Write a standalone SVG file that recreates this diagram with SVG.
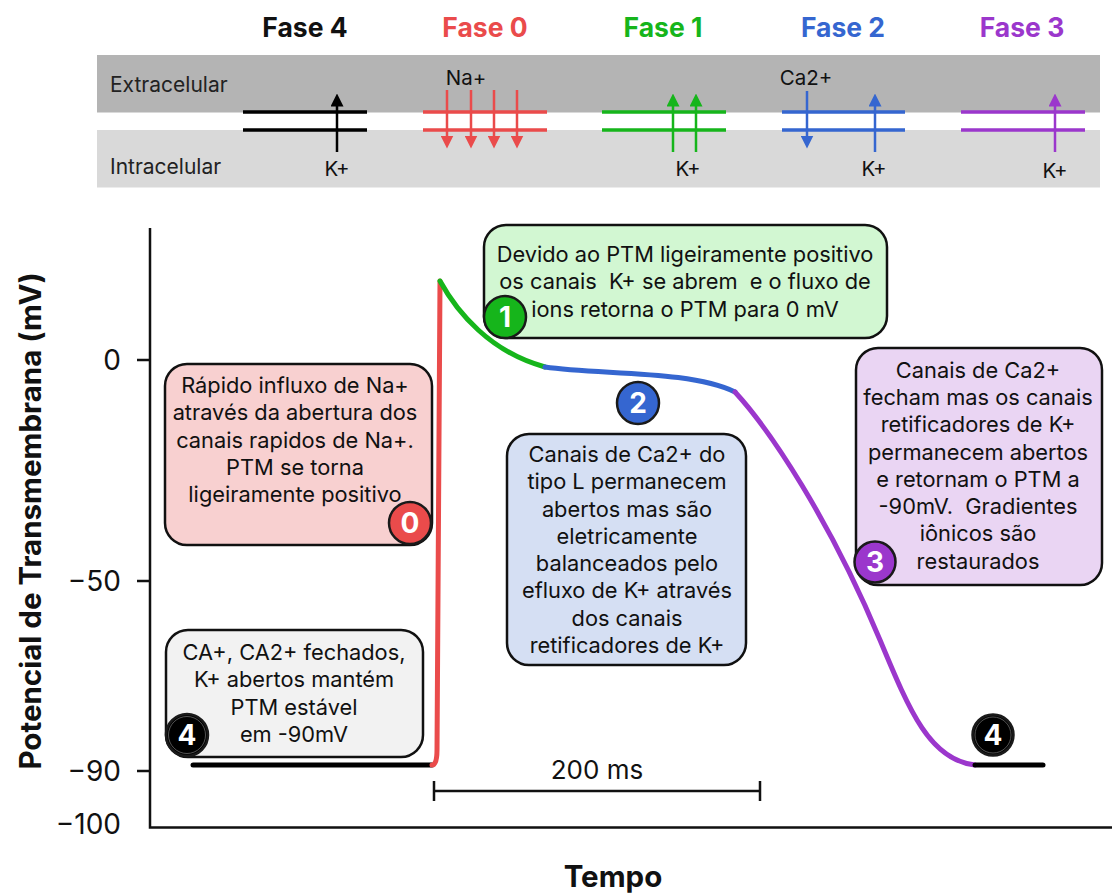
<svg xmlns="http://www.w3.org/2000/svg" width="1112" height="895" viewBox="0 0 1112 895">
  <style>
    text { font-family: "Inter", "Liberation Sans", sans-serif; fill: #111; }
    .phase { font-size: 26.5px; font-weight: 700; text-anchor: middle; }
    .side { font-size: 21px; fill: #222; }
    .ion { font-size: 20.5px; text-anchor: middle; }
    .box { stroke: #111; stroke-width: 2.5; }
    .note { font-size: 21.8px; text-anchor: middle; }
    .badge { stroke: #1a1a1a; stroke-width: 2.5; }
    .num { font-size: 28px; font-weight: 700; text-anchor: middle; fill: #fff; }
    .tick { font-size: 28px; text-anchor: end; }
    .title { font-size: 29.5px; font-weight: 700; text-anchor: middle; }
    .mem { stroke-width: 3.5; fill: none; }
    .flux { stroke-width: 2.5; fill: none; }
    .trace { fill: none; stroke-width: 5; stroke-linecap: round; stroke-linejoin: round; }
    .axis { stroke: #111; stroke-width: 2.5; fill: none; }
  </style>
  <defs>
    <marker id="hk" viewBox="0 0 12 12" refX="6" refY="6" markerWidth="13" markerHeight="13" markerUnits="userSpaceOnUse" orient="auto"><path d="M0,0 L12,6 L0,12 Z" fill="#000"/></marker>
    <marker id="hr" viewBox="0 0 12 12" refX="6" refY="6" markerWidth="13" markerHeight="13" markerUnits="userSpaceOnUse" orient="auto"><path d="M0,0 L12,6 L0,12 Z" fill="#ea4b4b"/></marker>
    <marker id="hg" viewBox="0 0 12 12" refX="6" refY="6" markerWidth="13" markerHeight="13" markerUnits="userSpaceOnUse" orient="auto"><path d="M0,0 L12,6 L0,12 Z" fill="#16b51b"/></marker>
    <marker id="hb" viewBox="0 0 12 12" refX="6" refY="6" markerWidth="13" markerHeight="13" markerUnits="userSpaceOnUse" orient="auto"><path d="M0,0 L12,6 L0,12 Z" fill="#3566d0"/></marker>
    <marker id="hp" viewBox="0 0 12 12" refX="6" refY="6" markerWidth="13" markerHeight="13" markerUnits="userSpaceOnUse" orient="auto"><path d="M0,0 L12,6 L0,12 Z" fill="#9b37cc"/></marker>
  </defs>

  <rect width="1112" height="895" fill="#fff"/>

  <!-- cell membrane strip -->
  <g id="membrane">
    <rect x="97" y="55" width="1003" height="57.5" fill="#b4b4b4"/>
    <rect x="97" y="130" width="1003" height="57.5" fill="#d9d9d9"/>
    <text class="side" x="110" y="92">Extracelular</text>
    <text class="side" x="110" y="174">Intracelular</text>
  </g>

  <!-- phase 4 -->
  <g id="fase4">
    <text class="phase" x="305" y="37">Fase 4</text>
    <path class="mem" stroke="#000" d="M243,112 H367 M243,130 H367"/>
    <path class="flux" stroke="#000" d="M337,152 V100" marker-end="url(#hk)"/>
    <text class="ion" x="337" y="176">K+</text>
  </g>

  <!-- phase 0 -->
  <g id="fase0">
    <text class="phase" x="485" y="37" style="fill:#ea4b4b">Fase 0</text>
    <path class="mem" stroke="#ea4b4b" d="M423,112 H547 M423,130 H547"/>
    <path class="flux" stroke="#ea4b4b" d="M447,90 V142" marker-end="url(#hr)"/>
    <path class="flux" stroke="#ea4b4b" d="M471,90 V142" marker-end="url(#hr)"/>
    <path class="flux" stroke="#ea4b4b" d="M494,90 V142" marker-end="url(#hr)"/>
    <path class="flux" stroke="#ea4b4b" d="M517,90 V142" marker-end="url(#hr)"/>
    <text class="ion" x="466" y="85">Na+</text>
  </g>

  <!-- phase 1 -->
  <g id="fase1">
    <text class="phase" x="663" y="37" style="fill:#16b51b">Fase 1</text>
    <path class="mem" stroke="#16b51b" d="M602,112 H726 M602,130 H726"/>
    <path class="flux" stroke="#16b51b" d="M673,152 V100" marker-end="url(#hg)"/>
    <path class="flux" stroke="#16b51b" d="M696,152 V100" marker-end="url(#hg)"/>
    <text class="ion" x="688" y="176">K+</text>
  </g>

  <!-- phase 2 -->
  <g id="fase2">
    <text class="phase" x="843" y="37" style="fill:#3566d0">Fase 2</text>
    <path class="mem" stroke="#3566d0" d="M782,112 H905 M782,130 H905"/>
    <path class="flux" stroke="#3566d0" d="M807,91 V142" marker-end="url(#hb)"/>
    <path class="flux" stroke="#3566d0" d="M875,152 V100" marker-end="url(#hb)"/>
    <text class="ion" x="806" y="85">Ca2+</text>
    <text class="ion" x="874" y="176">K+</text>
  </g>

  <!-- phase 3 -->
  <g id="fase3">
    <text class="phase" x="1022" y="37" style="fill:#9b37cc">Fase 3</text>
    <path class="mem" stroke="#9b37cc" d="M961,112 H1085 M961,130 H1085"/>
    <path class="flux" stroke="#9b37cc" d="M1055,152 V100" marker-end="url(#hp)"/>
    <text class="ion" x="1055" y="178">K+</text>
  </g>

  <!-- axes -->
  <g id="axes">
    <path class="axis" d="M150,228 V827.5 H1112"/>
    <path class="axis" d="M137,360 H150 M137,581 H150 M137,771 H150"/>
    <text class="tick" x="121" y="370">0</text>
    <text class="tick" x="121" y="591">−50</text>
    <text class="tick" x="121" y="781">−90</text>
    <text class="tick" x="121" y="834">−100</text>
    <text class="title" transform="translate(41,521) rotate(-90)">Potencial de Transmembrana (mV)</text>
    <text class="title" x="613" y="887">Tempo</text>
    <path class="axis" stroke-width="3" d="M434,791 H760 M434,781 V801 M760,781 V801"/>
    <text x="597" y="779" style="font-size:26px;text-anchor:middle">200 ms</text>
  </g>

  <!-- action potential trace -->
  <g id="connectors">
    <path class="trace" stroke="#000" d="M193,765 H432"/>
    <path class="trace" stroke="#ea4b4b" d="M432,765 Q437,765 437,750 L440,281"/>
    <path class="trace" stroke="#16b51b" d="M440,281 C457,312 490,352 545,367"/>
    <path class="trace" stroke="#3566d0" d="M545,367 C600,375 690,370 735,392"/>
    <path class="trace" stroke="#9b37cc" d="M735,392 C770,430 830,520 880,640 C910,712 930,760 975,765"/>
    <path class="trace" stroke="#000" d="M975,765 H1043"/>
  </g>

  <!-- note: phase 0 -->
  <g id="nota0">
    <rect class="box" x="165" y="364" width="267" height="181" rx="22" fill="#f8d0d0"/>
    <text class="note" x="295" y="393">Rápido influxo de Na+</text>
    <text class="note" x="295" y="420">através da abertura dos</text>
    <text class="note" x="295" y="448">canais rapidos de Na+.</text>
    <text class="note" x="295" y="475">PTM se torna</text>
    <text class="note" x="295" y="502">ligeiramente positivo</text>
  </g>

  <!-- note: phase 1 -->
  <g id="nota1">
    <rect class="box" x="484" y="225" width="403" height="113" rx="22" fill="#d2f7d2"/>
    <text class="note" x="685" y="262">Devido ao PTM ligeiramente positivo</text>
    <text class="note" x="685" y="289" xml:space="preserve">os canais  K+ se abrem  e o fluxo de</text>
    <text class="note" x="685" y="317">ions retorna o PTM para 0 mV</text>
  </g>

  <!-- note: phase 2 -->
  <g id="nota2">
    <rect class="box" x="507" y="434" width="239" height="231" rx="22" fill="#d5dff3"/>
    <text class="note" x="627" y="462">Canais de Ca2+ do</text>
    <text class="note" x="627" y="489">tipo L permanecem</text>
    <text class="note" x="627" y="517">abertos mas são</text>
    <text class="note" x="627" y="544">eletricamente</text>
    <text class="note" x="627" y="571">balanceados pelo</text>
    <text class="note" x="627" y="598">efluxo de K+ através</text>
    <text class="note" x="627" y="626">dos canais</text>
    <text class="note" x="627" y="653">retificadores de K+</text>
  </g>

  <!-- note: phase 3 -->
  <g id="nota3">
    <rect class="box" x="856" y="348" width="246" height="237" rx="22" fill="#ead5f3"/>
    <text class="note" x="978" y="378">Canais de Ca2+</text>
    <text class="note" x="978" y="405">fecham mas os canais</text>
    <text class="note" x="978" y="432">retificadores de K+</text>
    <text class="note" x="978" y="460">permanecem abertos</text>
    <text class="note" x="978" y="487">e retornam o PTM a</text>
    <text class="note" x="978" y="514" xml:space="preserve">-90mV.  Gradientes</text>
    <text class="note" x="978" y="541">iônicos são</text>
    <text class="note" x="978" y="569">restaurados</text>
  </g>

  <!-- note: phase 4 -->
  <g id="nota4">
    <rect class="box" x="166" y="630" width="257" height="127" rx="22" fill="#f2f2f2"/>
    <text class="note" x="294" y="660">CA+, CA2+ fechados,</text>
    <text class="note" x="294" y="687">K+ abertos mantém</text>
    <text class="note" x="294" y="715">PTM estável</text>
    <text class="note" x="294" y="742">em -90mV</text>
  </g>

  <!-- phase badges -->
  <g id="badge0"><circle class="badge" cx="410" cy="523" r="21" fill="#ea4b4b"/><text class="num" x="410" y="533">0</text></g>
  <g id="badge1"><circle class="badge" cx="505" cy="317" r="21" fill="#16b51b"/><text class="num" x="505" y="327">1</text></g>
  <g id="badge2"><circle class="badge" cx="638" cy="403" r="21" fill="#3566d0"/><text class="num" x="638" y="413">2</text></g>
  <g id="badge3"><circle class="badge" cx="875" cy="562" r="20.5" fill="#9b37cc"/><text class="num" x="875" y="572">3</text></g>
  <g id="badge4a"><circle class="badge" cx="187" cy="735" r="21" fill="#000"/><circle cx="187" cy="735" r="18.5" fill="none" stroke="#777" stroke-width="0.7"/><text class="num" x="187" y="745">4</text></g>
  <g id="badge4b"><circle class="badge" cx="993" cy="735" r="20.5" fill="#000"/><circle cx="993" cy="735" r="18" fill="none" stroke="#777" stroke-width="0.7"/><text class="num" x="993" y="745">4</text></g>
</svg>
